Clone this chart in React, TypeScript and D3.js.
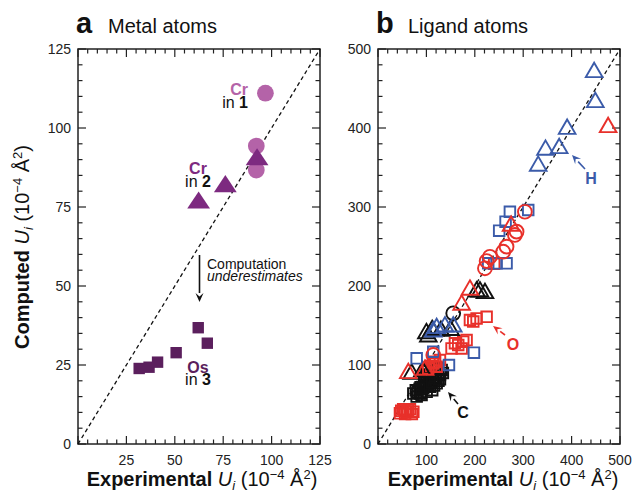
import React from "react";
import * as d3 from "d3";

// ---- panel a: metal atoms [experimental, computed]
const crIn1 = [[96.8, 111.0], [92.1, 94.3], [92.1, 86.7]];
const crIn2 = [[92.5, 90.0], [76.1, 81.5], [62.3, 76.3]];
const osIn3 = [[31.6, 23.9], [36.7, 24.3], [41.1, 25.9], [50.7, 28.9], [62.1, 36.8], [66.8, 31.9]];

// ---- panel b: ligand atoms
const blackSq = [
  [73, 64], [86.7, 64], [100.5, 66], [79.9, 60], [93.5, 70.5], [107.4, 72.5], [121.2, 76.8],
  [114.2, 83.2], [128, 87.3], [131.5, 93.7], [95, 78], [105, 82], [112, 68], [120, 90], [100, 88],
  [88, 72], [110, 95], [125, 80], [82, 66], [90, 62], [98, 74], [104, 76], [116, 74], [118, 84],
  [108, 86], [124, 96], [134, 90], [96, 84], [86, 70], [78, 68], [112, 78], [128, 82], [102, 92]
];
const redSq = [
  [45.4, 38.8], [59.2, 40.9], [73, 40.9], [52, 44], [66, 44], [48, 42], [56, 38], [62, 43], [70, 38],
  [114.2, 102], [121.2, 97.8], [103.8, 95.8], [128, 106.3], [110, 99], [118, 104],
  [152, 121], [165.8, 125.3], [176.1, 129.5], [159, 127.5], [172.8, 121], [183, 131.6],
  [190, 157], [203.7, 159], [224.4, 161], [196.8, 155],
  [240, 228]
];
const blueSq = [
  [79.9, 108.5], [114.2, 116.8], [146.6, 100], [198.2, 115.6],
  [227.7, 228.7], [245, 228.7], [265.6, 228.7],
  [250.4, 270], [263.6, 281.4], [272.5, 294], [310.4, 296.2]
];
const redCirc = [
  [55, 42], [114.2, 112.7],
  [231.2, 237], [224.4, 231.6], [220.9, 222.4], [258.7, 243.4], [265.6, 249.8],
  [286.3, 268.8], [282.8, 264.6], [303.5, 294]
];
const blackCirc = [[155.4, 165.4]];
const blackTri = [
  [69.5, 88.7], [100, 140], [112, 144], [130, 143], [150, 144], [104, 135.8], [92, 92],
  [210.6, 192.8], [221, 190.7], [203.7, 192.8]
];
const blueTri = [
  [121.2, 146.4], [138.3, 148.5], [155.4, 148.5], [114.2, 142.2],
  [331, 351.9], [346.1, 372.2], [374.3, 374.3], [390.8, 398.7], [449, 432.5], [446.6, 470.5]
];
const redTri = [[62.6, 89.5], [97, 93.7], [172.8, 176], [190, 195], [275, 276], [475.5, 400.8]];

const aTicks = [25, 50, 75, 100, 125];
const bTicks = [100, 200, 300, 400, 500];

const FONT = "'Liberation Sans', Arial, Helvetica, sans-serif";
const BLUE = "#3b5ba9";
const RED = "#e8302a";

const sym = (type: any, size: number) => d3.symbol().type(type).size(size)() as string;

function Frame({ x, y, max, major, minor, labels }: any) {
  const [x0, x1] = x.range();
  const [y0, y1] = y.range();
  const ticks = d3.range(0, max + 0.001, minor);
  const isMajor = (v: number) => Math.abs(v / major - Math.round(v / major)) < 1e-6;
  return (
    <g>
      <rect x={x0} y={y1} width={x1 - x0} height={y0 - y1} fill="none" stroke="#222" strokeWidth={1.5} />
      {ticks.map((v: number) => {
        const L = isMajor(v) ? 8 : 4.5;
        const px = x(v), py = y(v);
        return (
          <g key={v} stroke="#222" strokeWidth={1.2}>
            <line x1={px} x2={px} y1={y0} y2={y0 - L} />
            <line x1={px} x2={px} y1={y1} y2={y1 + L} />
            <line x1={x0} x2={x0 + L} y1={py} y2={py} />
            <line x1={x1} x2={x1 - L} y1={py} y2={py} />
          </g>
        );
      })}
      {labels.map((v: number) => (
        <text key={"x" + v} x={x(v)} y={y0 + 21} textAnchor="middle" fontSize={14} fill="#222">{v}</text>
      ))}
      {[0, ...labels].map((v: number) => (
        <text key={"y" + v} x={x0 - 7} y={y(v) + 5} textAnchor="end" fontSize={14} fill="#222">{v}</text>
      ))}
      <line x1={x(0)} y1={y(0)} x2={x(max)} y2={y(max)} stroke="#111" strokeWidth={1.3} strokeDasharray="4,3" />
    </g>
  );
}

function AxisTitle({ lead, ...rest }: any) {
  return (
    <text {...rest} textAnchor="middle" fontSize={20} fill="#111">
      <tspan fontWeight="bold">{lead}</tspan>
      <tspan> </tspan>
      <tspan fontStyle="italic">U</tspan>
      <tspan fontStyle="italic" fontSize={13} dy={4}>i</tspan>
      <tspan dy={-4}> (10</tspan>
      <tspan fontSize={13} dy={-7}>−4</tspan>
      <tspan dy={7}> Å</tspan>
      <tspan fontSize={13} dy={-7}>2</tspan>
      <tspan dy={7}>)</tspan>
    </text>
  );
}

function Arrow({ x1, y1, x2, y2, color }: any) {
  const ang = Math.atan2(y2 - y1, x2 - x1);
  const hl = 9, hw = 4;
  const bx = x2 - hl * Math.cos(ang), by = y2 - hl * Math.sin(ang);
  const px = -Math.sin(ang) * hw, py = Math.cos(ang) * hw;
  return (
    <g>
      <line x1={x1} y1={y1} x2={bx} y2={by} stroke={color} strokeWidth={1.6} />
      <path d={`M${x2},${y2}L${bx + px},${by + py}L${bx + 0.4 * hl * Math.cos(ang)},${by + 0.4 * hl * Math.sin(ang)}L${bx - px},${by - py}Z`} fill={color} />
    </g>
  );
}

export default function App() {
  const xa = d3.scaleLinear().domain([0, 125]).range([78, 320]);
  const ya = d3.scaleLinear().domain([0, 125]).range([444, 49]);
  const xb = d3.scaleLinear().domain([0, 500]).range([378, 620]);
  const yb = d3.scaleLinear().domain([0, 500]).range([444, 49]);

  const tri = sym(d3.symbolTriangle, 170);
  const circ = sym(d3.symbolCircle, 220);
  const sq = sym(d3.symbolSquare, 130);
  const oTri = sym(d3.symbolTriangle, 120);
  const oCirc = sym(d3.symbolCircle, 150);
  const oSq = sym(d3.symbolSquare, 112);

  const open = (data: number[][], d: string, color: string, key: string) =>
    data.map((p, i) => (
      <path key={key + i} d={d} transform={`translate(${xb(p[0])},${yb(p[1])})`} fill="none" stroke={color} strokeWidth={1.9} />
    ));

  return (
    <svg width={635} height={492} style={{ position: "absolute", left: 0, top: 0 }} fontFamily={FONT}>
      <rect width={635} height={492} fill="#fff" />
      {/* titles */}
      <text x={76} y={33} fontSize={29} fontWeight="bold" fill="#111">a</text>
      <text x={108} y={33} fontSize={20} fill="#111">Metal atoms</text>
      <text x={376} y={33} fontSize={29} fontWeight="bold" fill="#111">b</text>
      <text x={408} y={33} fontSize={20} fill="#111">Ligand atoms</text>

      <AxisTitle lead="Computed" transform="translate(29,247) rotate(-90)" />

      <Frame x={xa} y={ya} max={125} major={25} minor={5} labels={aTicks} />
      <Frame x={xb} y={yb} max={500} major={100} minor={20} labels={bTicks} />
      <AxisTitle lead="Experimental" x={202} y={486} />
      <AxisTitle lead="Experimental" x={503} y={486} />

      {/* panel a marks */}
      {crIn1.map((p, i) => (
        <path key={"c" + i} d={circ} transform={`translate(${xa(p[0])},${ya(p[1])})`} fill="#b463a8" />
      ))}
      {crIn2.map((p, i) => (
        <path key={"t" + i} d={tri} transform={`translate(${xa(p[0])},${ya(p[1])}) scale(1.15,1)`} fill="#7d2a80" />
      ))}
      {osIn3.map((p, i) => (
        <path key={"s" + i} d={sq} transform={`translate(${xa(p[0])},${ya(p[1])})`} fill="#5b1f5d" />
      ))}

      <text x={248} y={95} textAnchor="end" fontSize={16} fontWeight="bold" fill="#b463a8">Cr</text>
      <text x={248} y={108} textAnchor="end" fontSize={16} fill="#111">in <tspan fontWeight="bold">1</tspan></text>
      <text x={198} y={174} textAnchor="middle" fontSize={16} fontWeight="bold" fill="#7d2a80">Cr</text>
      <text x={198} y={187} textAnchor="middle" fontSize={16} fill="#111">in <tspan fontWeight="bold">2</tspan></text>
      <text x={198} y={373} textAnchor="middle" fontSize={16} fontWeight="bold" fill="#5b1f5d">Os</text>
      <text x={198} y={385} textAnchor="middle" fontSize={16} fill="#111">in <tspan fontWeight="bold">3</tspan></text>

      <Arrow x1={199.5} y1={255} x2={199.5} y2={302} color="#111" />
      <text x={207} y={269} fontSize={14} fill="#111">Computation</text>
      <text x={207} y={281} fontSize={14} fontStyle="italic" fill="#111">underestimates</text>

      {/* panel b marks */}
      {open(blackSq, oSq, "#111", "bs")}
      {open(redSq, oSq, RED, "rs")}
      {open(blackTri, oTri, "#111", "bt")}
      {open(blueSq, oSq, BLUE, "us")}
      {open(redCirc, oCirc, RED, "rc")}
      {open(blackCirc, oCirc, "#111", "bc")}
      {open(redTri, oTri, RED, "rt")}
      {open(blueTri, oTri, BLUE, "ut")}

      <Arrow x1={585} y1={169} x2={572} y2={155} color={BLUE} />
      <text x={591} y={184} textAnchor="middle" fontSize={16} fontWeight="bold" fill={BLUE}>H</text>
      <Arrow x1={505} y1={335} x2={493} y2={326} color={RED} />
      <text x={513} y={350} textAnchor="middle" fontSize={16} fontWeight="bold" fill={RED}>O</text>
      <Arrow x1={458} y1={404} x2={448} y2={392} color="#111" />
      <text x={463} y={418} textAnchor="middle" fontSize={16} fontWeight="bold" fill="#111">C</text>
    </svg>
  );
}
